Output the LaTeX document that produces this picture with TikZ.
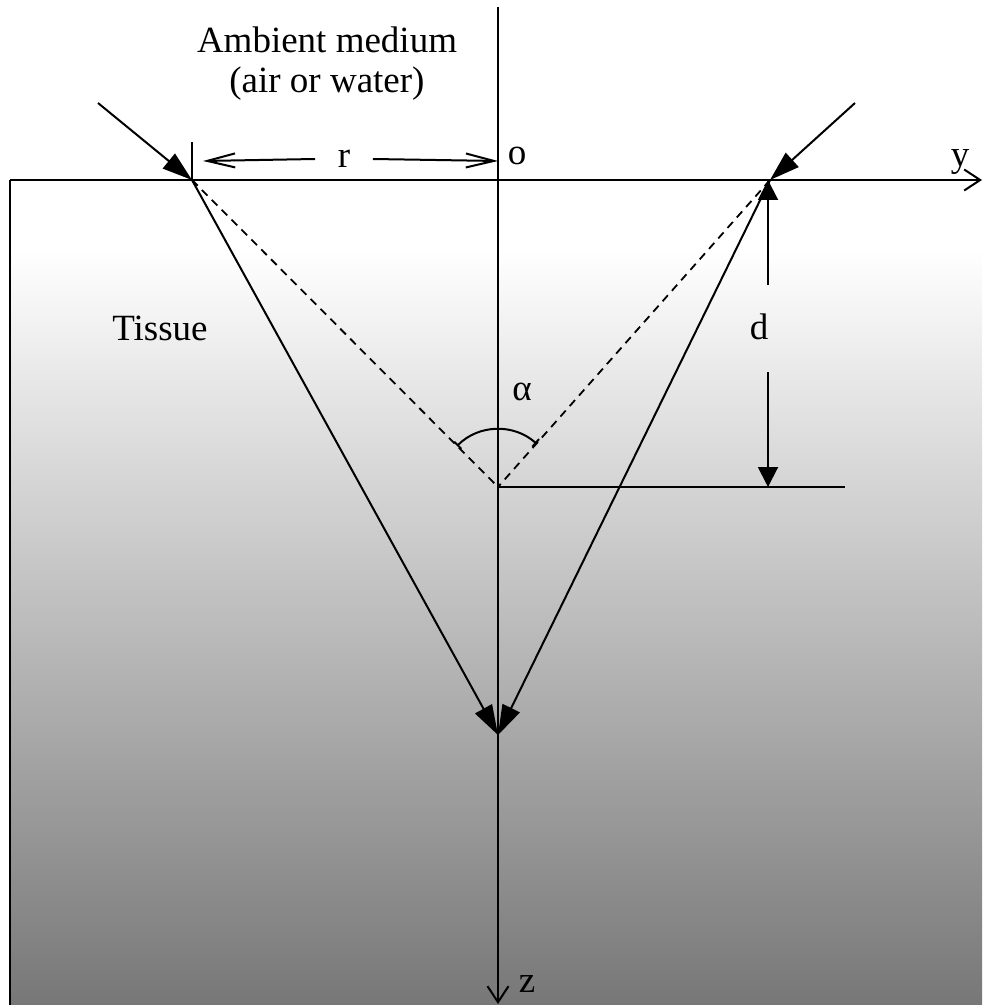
\documentclass[tikz,border=0pt]{standalone}
\usepackage{fontspec}
\setmainfont{Liberation Serif}
\usetikzlibrary{arrows.meta}
\definecolor{tissuedark}{HTML}{777777}
\pgfdeclareverticalshading{tissueshade}{100bp}{color(0bp)=(tissuedark); color(25bp)=(tissuedark); color(70.8bp)=(white); color(100bp)=(white)}

\begin{document}
\begin{tikzpicture}[
  x=0.5pt,y=-0.5pt,
  font=\fontsize{18.5}{20}\selectfont,
  axis/.style={line width=1pt,-{Straight Barb[length=8pt,width=10.5pt]}},
  ray/.style={line width=1pt,-{Triangle[length=15pt,width=9.5pt]}},
  guide/.style={line width=0.9pt,dash pattern=on 4pt off 3pt},
  dim/.style={line width=1pt,-{Triangle[length=10pt,width=10pt]}},
  rdim/.style={line width=1pt,-{Straight Barb[length=14pt,width=7pt]}},
  lbl/.style={inner sep=0pt,anchor=base},
]
\useasboundingbox (0,0) rectangle (982,1005);

% tissue block, white near the surface and darker with depth
\shade[shading=tissueshade] (10,180) rectangle (982,1005);
\draw[line width=1pt] (10,1005) -- (10,180);

\coordinate (L) at (192,180);
\coordinate (R) at (770,180);
\coordinate (C) at (498,487);
\coordinate (F) at (498,735);
\coordinate (Lin) at (98,103);
\coordinate (Rin) at (855,103);
\coordinate (Ltick) at (192,142);
\coordinate (Ztop) at (498,7);
\coordinate (Zend) at (498,1004);
\coordinate (Y0) at (10,180);
\coordinate (Yend) at (982,180);
\coordinate (Cend) at (845,487);
\coordinate (Rd) at (768,180);
\coordinate (Cd) at (768,487);
\coordinate (dup) at (768,285);
\coordinate (ddown) at (768,372);
\coordinate (rl) at (203,161);
\coordinate (rr) at (498,161);

% axes
\draw[axis] (Y0) -- (Yend);
\draw[axis] (Ztop) -- (Zend);

% incoming beams and refracted rays
\draw[ray] (Lin) -- (L);
\draw[ray] (Rin) -- (R);
\draw[ray] (L) -- (F);
\draw[ray] (R) -- (F);
\draw[guide] (L) -- (C);
\draw[guide] (R) -- (C);
\draw[line width=1pt] (C) -- (Cend);
\draw[line width=1pt] (L) -- (Ltick);

% angle between the dashed lines
\draw[line width=1pt,{Bar[width=5pt]}-{Bar[width=5pt]}]
  ([shift={(225:58)}]C) arc[start angle=225,end angle=311.5,radius=58];

\node[lbl] (alpha) at (522,400) {α};

% depth d and offset r
\node[lbl] (dlabel) at (759,339) {d};
\draw[dim] (dup) -- (Rd);
\draw[dim] (ddown) -- (Cd);

\node[inner sep=0pt,minimum width=28.5pt,minimum height=10pt] (rlabel) at (344,159) {r};
\draw[rdim] (rlabel.west) -- (rl);
\draw[rdim] (rlabel.east) -- (rr);

\node[lbl] (origin) at (517,165) {o};
\node[lbl] (ylabel) at (960,167) {y};
\node[lbl] (zlabel) at (527,992) {z};
\node[lbl] (tissue) at (160,340) {Tissue};
\node[align=center,inner sep=0pt] (ambient) at (327,64) {Ambient medium\\(air or water)};
\end{tikzpicture}
\end{document}
